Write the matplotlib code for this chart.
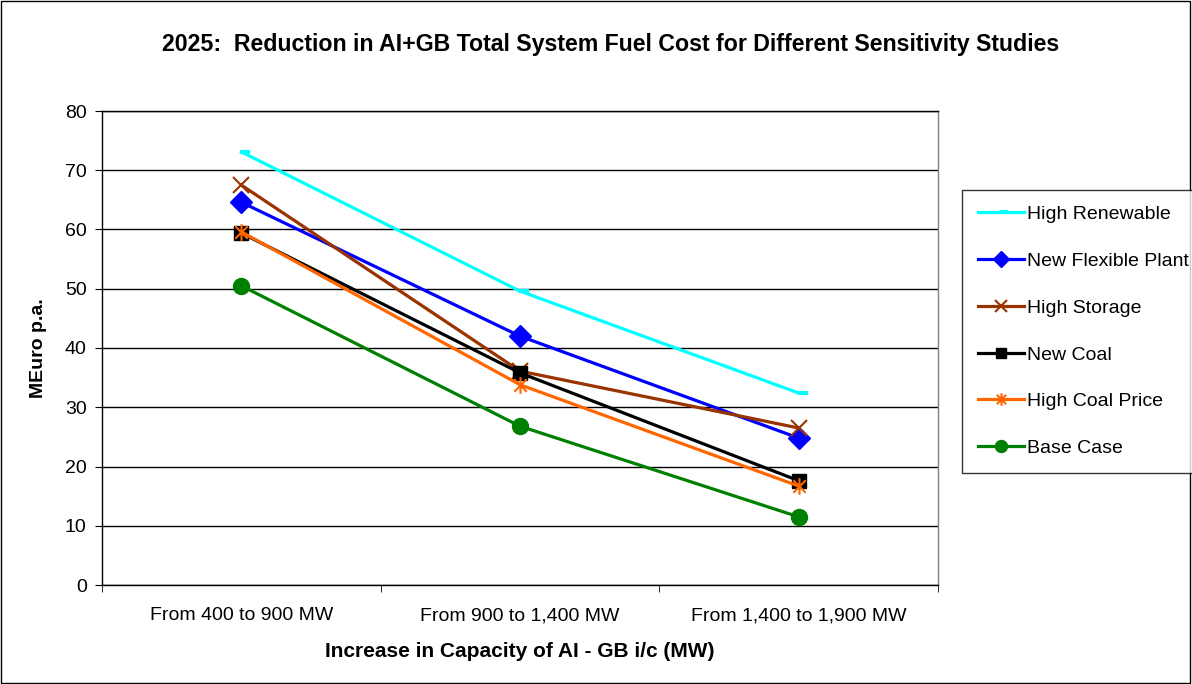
import matplotlib
matplotlib.use("Agg")
import matplotlib.pyplot as plt
from matplotlib.patches import Rectangle
from matplotlib.path import Path

plt.rcParams['font.family'] = ['Liberation Sans', 'DejaVu Sans']

categories = ["From 400 to 900 MW", "From 900 to 1,400 MW", "From 1,400 to 1,900 MW"]
high_renewable = [73.1, 49.6, 32.4]
new_flexible = [64.6, 42.0, 24.8]
high_storage = [67.5, 36.1, 26.5]
new_coal = [59.4, 35.8, 17.6]
high_coal_price = [59.6, 33.8, 16.7]
base_case = [50.5, 26.8, 11.5]

# custom markers
asterisk = Path([(0, -1), (0, 1), (-0.75, -0.75), (0.75, 0.75), (-0.75, 0.75), (0.75, -0.75)],
                [Path.MOVETO, Path.LINETO, Path.MOVETO, Path.LINETO, Path.MOVETO, Path.LINETO])
dash = Path([(-0.1, 0), (1.0, 0)], [Path.MOVETO, Path.LINETO])

series = [
    ("High Renewable", high_renewable, "#00FFFF", dash, 13, 3.0),
    ("New Flexible Plant", new_flexible, "#0000FF", "D", 11, 1.0),
    ("High Storage", high_storage, "#993300", "x", 11, 1.5),
    ("New Coal", new_coal, "#000000", "s", 10.5, 1.0),
    ("High Coal Price", high_coal_price, "#FF6600", asterisk, 12, 1.5),
    ("Base Case", base_case, "#008000", "o", 11.5, 1.0),
]

fig = plt.figure(figsize=(11.92, 6.84), dpi=100)
fig.patches.append(Rectangle((0.0005, 0.001), 0.998, 0.997, transform=fig.transFigure,
                             fill=False, edgecolor="black", linewidth=1.0))
ax = fig.add_axes([102/1192, 1-585/684, (938-102)/1192, (585-111)/684])

x = list(range(len(categories)))
handles = []
for name, vals, color, marker, ms, mew in series:
    h, = ax.plot(x, vals, color=color, linewidth=2.3, marker=marker, markersize=ms,
                 markeredgewidth=mew, markeredgecolor=color, markerfacecolor=color,
                 label=name, zorder=3)
    handles.append(h)

ax.set_xlim(-0.5, 2.5)
ax.set_ylim(0, 80)
ax.set_yticks(range(0, 81, 10))
ax.yaxis.grid(True, color="black", linewidth=1.0)
ax.set_axisbelow(True)
ax.set_xticks(x)
ax.set_xticklabels(categories)
ax.set_xticks([-0.5, 0.5, 1.5, 2.5], minor=True)
ax.tick_params(axis="x", which="major", length=0, labelsize=14, pad=16)
ax.tick_params(axis="x", which="minor", length=5, direction="out")
ax.tick_params(axis="y", length=5, direction="out", labelsize=14, pad=6)
for s in ax.spines.values():
    s.set_color("black")
    s.set_linewidth(1.0)
ax.spines["right"].set_color("#808080")

ax.set_ylabel("MEuro p.a.", fontsize=14, fontweight="bold", labelpad=13)
ax.set_xlabel("Increase in Capacity of AI - GB i/c (MW)", fontsize=15, fontweight="bold", labelpad=13)
fig.text(611/1192, 1-44/684, "2025:  Reduction in AI+GB Total System Fuel Cost for Different Sensitivity Studies",
         ha="center", va="center", fontsize=16.7, fontweight="bold")

leg = fig.legend(handles=handles, loc="upper left", bbox_to_anchor=(962/1192, 1-190/684),
                 fontsize=14, frameon=True, fancybox=False, edgecolor="black",
                 labelspacing=1.5, handlelength=2.4, handletextpad=0.15, borderpad=0.8,
                 markerscale=0.75, borderaxespad=0)
leg.get_frame().set_linewidth(1.0)

fig.savefig("out.png", dpi=100)
